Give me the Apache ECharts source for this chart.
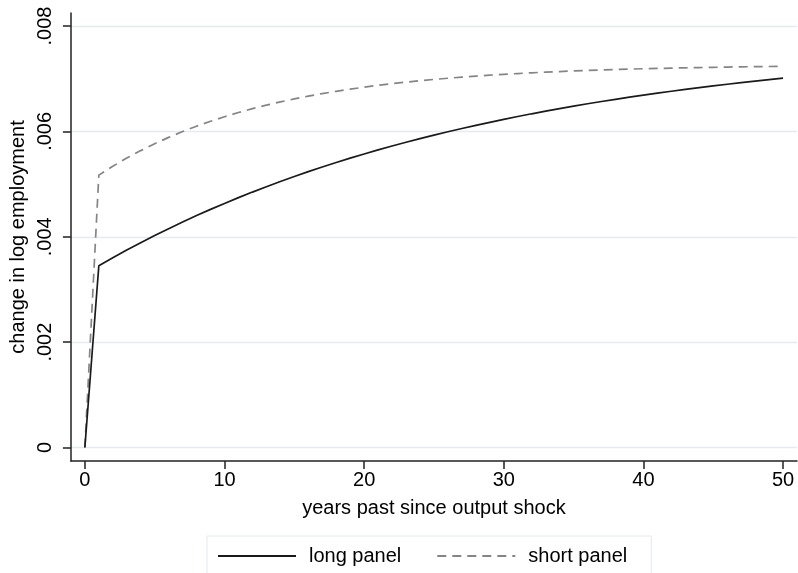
<!DOCTYPE html>
<html>
<head>
<meta charset="utf-8">
<script src="https://cdn.jsdelivr.net/npm/echarts@6/dist/echarts.min.js"></script>
<style>
html,body{margin:0;padding:0;background:#fff;}
#chart{width:798px;height:573px;}
</style>
</head>
<body>
<div id="chart"></div>
<script>
var years = [0,1,2,3,4,5,6,7,8,9,10,11,12,13,14,15,16,17,18,19,20,21,22,23,24,25,26,27,28,29,30,31,32,33,34,35,36,37,38,39,40,41,42,43,44,45,46,47,48,49,50];
var longPanel = [0,0.00345,0.00360,0.003747,0.003887,0.004023,0.004154,0.00428,0.004402,0.00452,0.004633,0.004743,0.004848,0.00495,0.005049,0.005144,0.005236,0.005324,0.005409,0.005492,0.005571,0.005648,0.005722,0.005793,0.005862,0.005929,0.005993,0.006055,0.006115,0.006172,0.006228,0.006282,0.006334,0.006384,0.006432,0.006479,0.006524,0.006567,0.006609,0.006649,0.006688,0.006726,0.006762,0.006797,0.006831,0.006864,0.006895,0.006925,0.006955,0.006983,0.00701];
var shortPanel = [0,0.00517,0.005338,0.005493,0.005635,0.005766,0.005886,0.005997,0.006099,0.006192,0.006278,0.006358,0.006431,0.006498,0.00656,0.006616,0.006669,0.006717,0.006761,0.006802,0.006839,0.006874,0.006905,0.006935,0.006961,0.006986,0.007009,0.00703,0.007049,0.007067,0.007083,0.007098,0.007112,0.007124,0.007136,0.007147,0.007157,0.007166,0.007174,0.007182,0.007189,0.007195,0.007201,0.007207,0.007212,0.007216,0.007221,0.007225,0.007228,0.007232,0.007235];
var xTicks = [0,10,20,30,40,50];
var yTicks = [0,0.002,0.004,0.006,0.008];
var seriesNames = ['long panel','short panel'];

var FONT = "'Liberation Sans', Arial, Helvetica, sans-serif";
var chart = echarts.init(document.getElementById('chart'), null, {renderer:'canvas'});

function pairs(xs, ys){ return xs.map(function(x,i){ return [x, ys[i]]; }); }

chart.setOption({
  animation: false,
  backgroundColor: '#ffffff',
  grid: {left: 68, right: 1, top: 13, bottom: 112, containLabel: false},
  xAxis: {
    type: 'value',
    min: -1.0, max: 51.0,
    name: 'years past since output shock',
    nameLocation: 'middle',
    nameGap: 37,
    nameTextStyle: {fontFamily: FONT, fontSize: 20, color: '#000'},
    axisLine: {show: true, onZero: false, lineStyle: {color: '#222', width: 1.5}},
    axisTick: {show: true, length: 8, inside: false, customValues: xTicks, lineStyle: {color: '#222', width: 1.5}},
    axisLabel: {customValues: xTicks, margin: 9, fontFamily: FONT, fontSize: 20, color: '#000'},
    splitLine: {show: false}
  },
  yAxis: {
    type: 'value',
    min: -0.000256, max: 0.008247,
    name: 'change in log employment',
    nameLocation: 'middle',
    nameGap: 40,
    nameTextStyle: {fontFamily: FONT, fontSize: 20, color: '#000'},
    axisLine: {show: true, onZero: false, lineStyle: {color: '#222', width: 1.5}},
    axisTick: {show: true, length: 8, inside: false, customValues: yTicks, lineStyle: {color: '#222', width: 1.5}},
    axisLabel: {
      customValues: yTicks, rotate: 90, margin: 15,
      fontFamily: FONT, fontSize: 20, color: '#000',
      formatter: function(v){ if (Math.abs(v) < 1e-12) return '0'; return v.toFixed(3).replace(/^0/, ''); }
    },
    splitLine: {show: true, lineStyle: {color: '#e2ecef', width: 1.3}}
  },
  legend: {
    left: 207, top: 536,
    orient: 'horizontal',
    itemWidth: 78, itemHeight: 14, itemGap: 35,
    padding: [10, 24, 14, 10],
    borderColor: '#e2eaec', borderWidth: 1,
    backgroundColor: '#fff',
    itemStyle: {opacity: 0, borderWidth: 0},
    textStyle: {fontFamily: FONT, fontSize: 20, color: '#000', padding: [0,0,0,8]},
    data: seriesNames
  },
  series: [
    {
      name: seriesNames[0], type: 'line', data: pairs(years, longPanel),
      showSymbol: false, symbol: 'none', smooth: false,
      lineStyle: {color: '#1a1a1a', width: 1.7, type: 'solid'},
      itemStyle: {color: '#1a1a1a'}, z: 3
    },
    {
      name: seriesNames[1], type: 'line', data: pairs(years, shortPanel),
      showSymbol: false, symbol: 'none', smooth: false,
      lineStyle: {color: '#858585', width: 1.7, type: [9, 6]},
      itemStyle: {color: '#858585'}, z: 2
    }
  ]
});
</script>
</body>
</html>
